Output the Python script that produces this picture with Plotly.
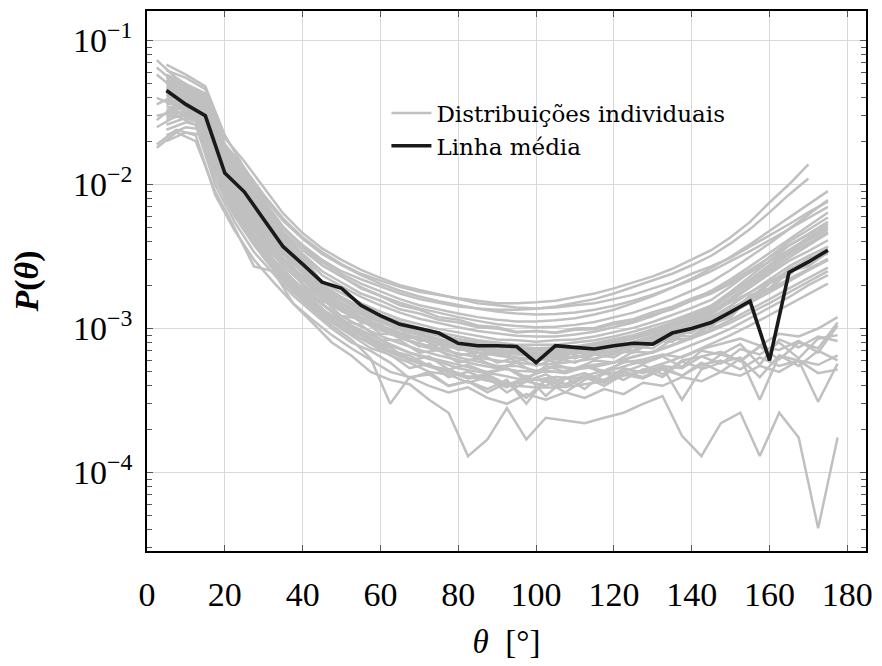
import plotly.graph_objects as go

# ---------------- data ----------------
theta_a = [5, 10, 15, 20, 25, 30, 35, 40, 45, 50, 55, 60, 65, 70, 75, 80, 85, 90, 95, 100,
           105, 110, 115, 120, 125, 130, 135, 140, 145, 150, 155, 160, 165, 170, 175]
theta_b = [2.5, 7.5, 12.5, 17.5, 22.5, 27.5, 32.5, 37.5, 42.5, 47.5, 52.5, 57.5, 62.5, 67.5,
           72.5, 77.5, 82.5, 87.5, 92.5, 97.5, 102.5, 107.5, 112.5, 117.5, 122.5, 127.5, 132.5,
           137.5, 142.5, 147.5, 152.5, 157.5, 162.5, 167.5, 172.5, 177.5]
theta_c = [5, 10, 15, 20, 25, 30, 35, 40, 45, 50, 55, 60, 65, 70, 75, 80, 85, 90, 95, 100,
           105, 110, 115, 120, 125, 130, 135, 140, 145, 150, 155, 160, 165, 170]

a01 = [6.2e-2,5.5e-2,4.6e-2,2.1e-2,1.45e-2,9.5e-3,6.3e-3,4.6e-3,3.6e-3,3.0e-3,2.55e-3,2.25e-3,2.0e-3,1.85e-3,1.72e-3,1.6e-3,1.5e-3,1.45e-3,1.4e-3,1.38e-3,1.4e-3,1.45e-3,1.5e-3,1.6e-3,1.72e-3,1.9e-3,2.1e-3,2.4e-3,2.7e-3,3.1e-3,3.7e-3,4.4e-3,5.3e-3,6.4e-3,7.6e-3]
a02 = [5.0e-2,4.6e-2,3.9e-2,1.7e-2,1.1e-2,7.0e-3,4.4e-3,3.2e-3,2.1e-3,1.76e-3,1.5e-3,1.31e-3,1.16e-3,1.07e-3,9.9e-4,9.4e-4,8.9e-4,8.4e-4,8.3e-4,8.1e-4,8.3e-4,8.4e-4,8.8e-4,9.4e-4,1.01e-3,1.11e-3,1.24e-3,1.39e-3,1.58e-3,1.96e-3,2.47e-3,3.15e-3,4.0e-3,4.85e-3,5.9e-3]
a03 = [4.4e-2,4.0e-2,3.5e-2,1.5e-2,9.5e-3,6.2e-3,3.9e-3,2.8e-3,1.88e-3,1.58e-3,1.35e-3,1.16e-3,1.05e-3,9.6e-4,9.0e-4,8.4e-4,8.0e-4,7.7e-4,7.4e-4,7.3e-4,7.4e-4,7.5e-4,7.9e-4,8.4e-4,9.0e-4,9.9e-4,1.09e-3,1.22e-3,1.39e-3,1.72e-3,2.17e-3,2.75e-3,3.5e-3,4.3e-3,5.1e-3]
a04 = [3.8e-2,3.6e-2,3.1e-2,1.3e-2,8.3e-3,5.4e-3,3.45e-3,2.46e-3,1.65e-3,1.39e-3,1.2e-3,1.05e-3,9.4e-4,8.6e-4,8.0e-4,7.5e-4,7.1e-4,6.8e-4,6.6e-4,6.5e-4,6.5e-4,6.7e-4,7.0e-4,7.4e-4,8.0e-4,8.8e-4,9.8e-4,1.1e-3,1.25e-3,1.54e-3,1.96e-3,2.48e-3,3.1e-3,3.8e-3,4.6e-3]
a05 = [3.2e-2,3.4e-2,2.9e-2,1.1e-2,7.0e-3,4.6e-3,3.1e-3,2.0e-3,1.5e-3,1.13e-3,1.06e-3,8.4e-4,8.3e-4,6.8e-4,7.1e-4,5.8e-4,6.2e-4,5.3e-4,5.8e-4,4.9e-4,5.6e-4,5.2e-4,6.0e-4,5.8e-4,6.9e-4,6.8e-4,8.4e-4,8.5e-4,1.07e-3,1.2e-3,1.65e-3,1.9e-3,2.6e-3,2.9e-3,3.7e-3]
a06 = [2.6e-2,2.9e-2,2.6e-2,9.5e-3,6.0e-3,3.9e-3,2.7e-3,2.05e-3,1.6e-3,1.32e-3,1.12e-3,9.8e-4,8.6e-4,7.9e-4,7.2e-4,6.7e-4,6.3e-4,6.0e-4,5.8e-4,5.6e-4,5.7e-4,5.9e-4,6.2e-4,6.6e-4,7.1e-4,7.8e-4,8.6e-4,9.7e-4,1.1e-3,1.28e-3,1.5e-3,1.78e-3,2.12e-3,2.55e-3,3.0e-3]
a07 = [2.2e-2,2.5e-2,2.4e-2,8.8e-3,5.2e-3,3.4e-3,2.3e-3,1.75e-3,1.36e-3,1.12e-3,9.4e-4,8.0e-4,7.2e-4,6.4e-4,5.9e-4,5.3e-4,5.0e-4,4.8e-4,4.5e-4,4.4e-4,4.6e-4,4.5e-4,4.9e-4,5.2e-4,5.7e-4,6.1e-4,6.8e-4,7.7e-4,8.7e-4,1.0e-3,1.18e-3,1.4e-3,1.65e-3,2.0e-3,2.35e-3]
a08 = [5.5e-2,4.9e-2,4.1e-2,1.8e-2,1.2e-2,7.8e-3,5.1e-3,3.7e-3,2.75e-3,2.3e-3,1.94e-3,1.69e-3,1.51e-3,1.38e-3,1.28e-3,1.2e-3,1.13e-3,1.07e-3,1.04e-3,1.02e-3,1.03e-3,1.06e-3,1.11e-3,1.19e-3,1.29e-3,1.43e-3,1.6e-3,1.83e-3,2.11e-3,2.55e-3,3.15e-3,3.9e-3,4.9e-3,6.2e-3,7.8e-3]
a09 = [4.7e-2,4.3e-2,3.7e-2,1.6e-2,1.0e-2,6.6e-3,4.2e-3,3.0e-3,2.0e-3,1.65e-3,1.41e-3,1.24e-3,1.11e-3,1.01e-3,9.4e-4,8.8e-4,8.3e-4,8.0e-4,7.7e-4,7.7e-4,7.7e-4,8.0e-4,8.3e-4,8.8e-4,9.5e-4,1.04e-3,1.14e-3,1.28e-3,1.44e-3,1.76e-3,2.17e-3,2.7e-3,3.3e-3,3.9e-3,4.6e-3]
a10 = [4.1e-2,3.8e-2,3.3e-2,1.4e-2,8.8e-3,5.8e-3,3.7e-3,2.64e-3,1.76e-3,1.46e-3,1.26e-3,1.1e-3,9.9e-4,9.0e-4,8.4e-4,7.9e-4,7.4e-4,7.1e-4,6.9e-4,6.8e-4,6.8e-4,7.0e-4,7.2e-4,7.6e-4,8.1e-4,8.8e-4,9.6e-4,1.07e-3,1.19e-3,1.44e-3,1.77e-3,2.18e-3,2.7e-3,3.2e-3,3.7e-3]
a11 = [3.5e-2,3.3e-2,2.9e-2,1.2e-2,7.6e-3,5.0e-3,3.3e-3,2.2e-3,1.62e-3,1.22e-3,1.17e-3,9.2e-4,9.1e-4,7.5e-4,7.8e-4,6.5e-4,6.8e-4,5.8e-4,6.3e-4,5.5e-4,6.2e-4,5.8e-4,6.6e-4,6.3e-4,7.5e-4,7.3e-4,8.9e-4,8.8e-4,1.1e-3,1.22e-3,1.65e-3,1.85e-3,2.5e-3,2.7e-3,3.4e-3]
a12 = [3.0e-2,3.0e-2,2.7e-2,1.05e-2,6.5e-3,4.3e-3,3.0e-3,2.25e-3,1.78e-3,1.48e-3,1.27e-3,1.11e-3,9.9e-4,9.0e-4,8.3e-4,7.7e-4,7.3e-4,7.0e-4,6.8e-4,6.6e-4,6.7e-4,6.8e-4,7.1e-4,7.5e-4,8.0e-4,8.7e-4,9.6e-4,1.07e-3,1.2e-3,1.38e-3,1.6e-3,1.88e-3,2.2e-3,2.6e-3,3.05e-3]
a13 = [4.8e-2,4.5e-2,4.0e-2,1.75e-2,1.15e-2,7.4e-3,5.0e-3,3.7e-3,2.9e-3,2.4e-3,2.05e-3,1.8e-3,1.6e-3,1.45e-3,1.35e-3,1.27e-3,1.2e-3,1.15e-3,1.12e-3,1.12e-3,1.14e-3,1.18e-3,1.25e-3,1.35e-3,1.5e-3,1.68e-3,1.92e-3,2.22e-3,2.62e-3,3.15e-3,3.85e-3,4.75e-3,5.9e-3,7.3e-3,9.0e-3]
a14 = [4.3e-2,3.9e-2,3.4e-2,1.45e-2,9.2e-3,6.0e-3,3.8e-3,2.73e-3,1.82e-3,1.5e-3,1.29e-3,1.13e-3,1.01e-3,9.2e-4,8.5e-4,7.9e-4,7.5e-4,7.1e-4,6.9e-4,6.8e-4,6.9e-4,7.1e-4,7.5e-4,8.0e-4,8.8e-4,9.8e-4,1.1e-3,1.25e-3,1.44e-3,1.8e-3,2.3e-3,2.93e-3,3.75e-3,4.55e-3,5.5e-3]
a15 = [3.6e-2,3.9e-2,3.3e-2,1.25e-2,8.0e-3,5.3e-3,3.35e-3,2.42e-3,1.58e-3,1.35e-3,1.14e-3,1.02e-3,9.0e-4,8.4e-4,7.7e-4,7.3e-4,6.8e-4,6.7e-4,6.3e-4,6.2e-4,6.4e-4,6.3e-4,6.7e-4,6.9e-4,7.5e-4,8.0e-4,8.9e-4,9.8e-4,1.1e-3,1.34e-3,1.66e-3,2.07e-3,2.55e-3,3.05e-3,3.5e-3]
a16 = [2.8e-2,3.1e-2,2.8e-2,1.0e-2,6.4e-3,4.1e-3,2.85e-3,2.15e-3,1.7e-3,1.4e-3,1.2e-3,1.04e-3,9.3e-4,8.4e-4,7.8e-4,7.2e-4,6.8e-4,6.5e-4,6.2e-4,6.1e-4,6.1e-4,6.3e-4,6.6e-4,7.0e-4,7.6e-4,8.3e-4,9.2e-4,1.03e-3,1.17e-3,1.34e-3,1.56e-3,1.83e-3,2.15e-3,2.55e-3,3.0e-3]
a17 = [2.4e-2,2.7e-2,2.5e-2,9.2e-3,5.6e-3,3.65e-3,2.5e-3,1.9e-3,1.48e-3,1.22e-3,1.03e-3,8.9e-4,7.9e-4,7.1e-4,6.5e-4,6.0e-4,5.6e-4,5.3e-4,5.1e-4,5.0e-4,5.0e-4,5.2e-4,5.4e-4,5.8e-4,6.3e-4,6.9e-4,7.7e-4,8.7e-4,9.9e-4,1.15e-3,1.35e-3,1.6e-3,1.9e-3,2.25e-3,2.65e-3]
a18 = [5.8e-2,5.0e-2,4.3e-2,1.9e-2,1.25e-2,8.2e-3,5.6e-3,4.2e-3,3.3e-3,2.75e-3,2.35e-3,2.05e-3,1.83e-3,1.67e-3,1.55e-3,1.45e-3,1.37e-3,1.31e-3,1.27e-3,1.25e-3,1.26e-3,1.29e-3,1.35e-3,1.44e-3,1.56e-3,1.72e-3,1.92e-3,2.17e-3,2.5e-3,2.92e-3,3.45e-3,4.1e-3,4.9e-3,5.9e-3,7.0e-3]
a19 = [4.5e-2,4.2e-2,3.6e-2,1.55e-2,9.8e-3,6.4e-3,4.05e-3,2.9e-3,1.94e-3,1.61e-3,1.37e-3,1.2e-3,1.07e-3,9.8e-4,9.0e-4,8.4e-4,8.0e-4,7.6e-4,7.4e-4,7.2e-4,7.2e-4,7.4e-4,7.7e-4,8.1e-4,8.6e-4,9.4e-4,1.03e-3,1.14e-3,1.29e-3,1.57e-3,1.93e-3,2.39e-3,2.95e-3,3.45e-3,4.1e-3]
a20 = [3.9e-2,3.7e-2,3.2e-2,1.35e-2,8.5e-3,5.6e-3,3.7e-3,2.45e-3,1.78e-3,1.36e-3,1.28e-3,1.0e-3,9.9e-4,8.2e-4,8.5e-4,7.1e-4,7.5e-4,6.5e-4,7.0e-4,6.1e-4,6.8e-4,6.2e-4,7.1e-4,6.7e-4,8.0e-4,7.8e-4,9.3e-4,9.3e-4,1.15e-3,1.26e-3,1.7e-3,1.9e-3,2.5e-3,2.75e-3,3.4e-3]
a21 = [3.3e-2,3.5e-2,3.0e-2,1.1e-2,6.8e-3,4.4e-3,3.0e-3,2.2e-3,1.7e-3,1.38e-3,1.15e-3,9.8e-4,8.7e-4,7.6e-4,7.0e-4,6.3e-4,5.9e-4,5.5e-4,5.5e-4,5.1e-4,5.4e-4,5.3e-4,5.6e-4,5.8e-4,6.4e-4,6.8e-4,7.6e-4,8.5e-4,9.6e-4,1.1e-3,1.28e-3,1.5e-3,1.78e-3,2.1e-3,2.5e-3]
a22 = [2.0e-2,2.3e-2,2.2e-2,8.0e-3,4.8e-3,3.1e-3,2.1e-3,1.6e-3,1.24e-3,1.01e-3,8.5e-4,7.3e-4,6.4e-4,5.7e-4,5.2e-4,4.8e-4,4.5e-4,4.2e-4,4.0e-4,3.9e-4,3.9e-4,4.0e-4,4.2e-4,4.5e-4,4.9e-4,5.4e-4,6.0e-4,6.8e-4,7.8e-4,9.0e-4,1.05e-3,1.24e-3,1.47e-3,1.75e-3,2.05e-3]
a23 = [5.2e-2,4.7e-2,4.0e-2,1.65e-2,1.05e-2,6.9e-3,4.4e-3,3.2e-3,2.34e-3,1.96e-3,1.66e-3,1.45e-3,1.29e-3,1.17e-3,1.09e-3,1.02e-3,9.6e-4,9.2e-4,8.9e-4,8.8e-4,8.8e-4,9.1e-4,9.5e-4,1.02e-3,1.1e-3,1.22e-3,1.38e-3,1.57e-3,1.83e-3,2.2e-3,2.7e-3,3.35e-3,4.2e-3,5.2e-3,6.4e-3]
a24 = [4.6e-2,4.1e-2,3.5e-2,1.5e-2,9.6e-3,6.3e-3,4.0e-3,2.86e-3,1.91e-3,1.59e-3,1.35e-3,1.18e-3,1.05e-3,9.5e-4,8.9e-4,8.3e-4,7.8e-4,7.4e-4,7.2e-4,7.1e-4,7.1e-4,7.2e-4,7.5e-4,7.9e-4,8.5e-4,9.2e-4,1.02e-3,1.15e-3,1.31e-3,1.62e-3,2.04e-3,2.57e-3,3.25e-3,3.9e-3,4.65e-3]
a25 = [3.7e-2,3.5e-2,3.0e-2,1.28e-2,8.1e-3,5.3e-3,3.3e-3,2.5e-3,1.55e-3,1.4e-3,1.1e-3,1.06e-3,8.6e-4,8.7e-4,7.3e-4,7.5e-4,6.4e-4,6.8e-4,5.9e-4,6.4e-4,5.8e-4,6.5e-4,6.1e-4,7.0e-4,6.8e-4,8.1e-4,8.1e-4,1.0e-3,1.02e-3,1.36e-3,1.52e-3,2.07e-3,2.35e-3,3.1e-3,3.3e-3]
a26 = [3.1e-2,3.2e-2,2.8e-2,1.08e-2,6.7e-3,4.4e-3,3.05e-3,2.3e-3,1.82e-3,1.51e-3,1.29e-3,1.13e-3,1.0e-3,9.1e-4,8.4e-4,7.8e-4,7.4e-4,7.0e-4,6.7e-4,6.6e-4,6.6e-4,6.7e-4,6.9e-4,7.3e-4,7.8e-4,8.5e-4,9.3e-4,1.04e-3,1.17e-3,1.34e-3,1.55e-3,1.82e-3,2.15e-3,2.55e-3,3.0e-3]
a27 = [6.8e-2,5.8e-2,4.8e-2,2.2e-2,1.3e-2,7.8e-3,4.65e-3,3.17e-3,2.03e-3,1.65e-3,1.39e-3,1.2e-3,1.07e-3,9.8e-4,9.0e-4,8.4e-4,8.0e-4,7.7e-4,7.4e-4,7.3e-4,7.3e-4,7.4e-4,7.7e-4,8.2e-4,8.8e-4,9.6e-4,1.07e-3,1.2e-3,1.37e-3,1.7e-3,2.13e-3,2.7e-3,3.4e-3,4.1e-3,4.85e-3]
a28 = [4.2e-2,4.0e-2,3.6e-2,1.6e-2,1.05e-2,7.0e-3,4.7e-3,3.5e-3,2.75e-3,2.3e-3,1.9e-3,1.68e-3,1.45e-3,1.35e-3,1.2e-3,1.15e-3,1.05e-3,1.02e-3,9.5e-4,9.6e-4,9.3e-4,9.8e-4,9.9e-4,1.07e-3,1.12e-3,1.25e-3,1.36e-3,1.56e-3,1.75e-3,2.05e-3,2.45e-3,2.9e-3,3.5e-3,4.2e-3,5.0e-3]
a29 = [2.9e-2,3.3e-2,2.9e-2,1.15e-2,7.3e-3,4.8e-3,3.3e-3,2.5e-3,1.95e-3,1.62e-3,1.38e-3,1.2e-3,1.07e-3,9.7e-4,9.0e-4,8.4e-4,7.9e-4,7.5e-4,7.2e-4,7.1e-4,7.1e-4,7.3e-4,7.6e-4,8.0e-4,8.6e-4,9.4e-4,1.04e-3,1.16e-3,1.32e-3,1.52e-3,1.78e-3,2.1e-3,2.5e-3,3.0e-3,3.55e-3]
a30 = [5.3e-2,4.6e-2,3.8e-2,1.6e-2,1.02e-2,6.7e-3,4.5e-3,3.3e-3,2.5e-3,2.1e-3,1.75e-3,1.56e-3,1.36e-3,1.27e-3,1.15e-3,1.1e-3,1.02e-3,1.0e-3,9.4e-4,9.6e-4,9.4e-4,1.0e-3,1.01e-3,1.1e-3,1.16e-3,1.3e-3,1.42e-3,1.62e-3,1.8e-3,2.12e-3,2.55e-3,3.1e-3,3.8e-3,4.5e-3,5.3e-3]

b01 = [1.8e-2,2.3e-2,2.0e-2,9.0e-3,5.0e-3,2.7e-3,2.5e-3,1.5e-3,1.1e-3,8.0e-4,6.5e-4,5.0e-4,4.4e-4,4.1e-4,3.2e-4,2.6e-4,1.3e-4,1.7e-4,2.8e-4,1.7e-4,2.4e-4,2.3e-4,2.2e-4,2.4e-4,2.6e-4,3.0e-4,3.4e-4,1.8e-4,1.3e-4,2.2e-4,2.6e-4,1.3e-4,2.6e-4,1.75e-4,4.1e-5,1.75e-4]
b02 = [2.5e-2,3.0e-2,2.6e-2,1.0e-2,5.5e-3,3.4e-3,2.4e-3,1.7e-3,1.3e-3,1.0e-3,8.0e-4,7.0e-4,5.8e-4,4.5e-4,5.0e-4,4.0e-4,4.3e-4,3.6e-4,4.2e-4,3.3e-4,4.4e-4,3.9e-4,4.6e-4,4.0e-4,4.8e-4,4.5e-4,5.2e-4,4.7e-4,5.8e-4,5.0e-4,6.2e-4,4.6e-4,6.5e-4,5.5e-4,7.0e-4,6.0e-4]
b03 = [7.3e-2,5.5e-2,4.5e-2,1.6e-2,8.5e-3,5.0e-3,3.0e-3,2.1e-3,1.6e-3,1.2e-3,9.5e-4,8.5e-4,7.0e-4,6.5e-4,5.5e-4,5.2e-4,4.6e-4,4.8e-4,4.1e-4,4.5e-4,4.3e-4,3.6e-4,4.4e-4,4.9e-4,5.0e-4,5.6e-4,4.8e-4,6.0e-4,6.4e-4,5.7e-4,7.2e-4,6.6e-4,8.0e-4,6.2e-4,8.5e-4,9.0e-4]
b04 = [3.0e-2,3.2e-2,2.8e-2,1.1e-2,6.0e-3,3.8e-3,2.6e-3,1.9e-3,1.4e-3,1.1e-3,9.0e-4,7.3e-4,6.6e-4,5.3e-4,5.7e-4,4.6e-4,5.0e-4,4.4e-4,3.9e-4,4.7e-4,3.4e-4,4.5e-4,4.9e-4,4.3e-4,5.3e-4,4.9e-4,5.5e-4,5.3e-4,6.4e-4,6.9e-4,5.9e-4,7.5e-4,7.1e-4,8.2e-4,6.8e-4,1.05e-3]
b05 = [6.5e-2,5.0e-2,4.0e-2,1.4e-2,7.5e-3,4.5e-3,3.0e-3,2.2e-3,1.65e-3,1.3e-3,1.05e-3,9.0e-4,7.8e-4,6.8e-4,6.3e-4,5.8e-4,5.4e-4,5.0e-4,5.3e-4,4.6e-4,5.1e-4,4.9e-4,5.4e-4,5.1e-4,5.8e-4,6.1e-4,6.6e-4,6.3e-4,7.2e-4,7.8e-4,8.5e-4,7.6e-4,9.2e-4,8.8e-4,1.0e-3,1.2e-3]
b06 = [4.0e-2,3.5e-2,3.3e-2,1.2e-2,6.8e-3,4.2e-3,2.8e-3,2.0e-3,1.5e-3,1.2e-3,1.0e-3,8.2e-4,7.0e-4,6.2e-4,5.5e-4,5.0e-4,4.5e-4,4.7e-4,4.0e-4,4.3e-4,4.8e-4,4.1e-4,4.7e-4,4.4e-4,5.2e-4,5.0e-4,5.4e-4,4.7e-4,5.6e-4,6.0e-4,5.2e-4,6.3e-4,5.5e-4,6.0e-4,4.9e-4,5.2e-4]
b07 = [1.9e-2,2.4e-2,2.2e-2,8.5e-3,4.8e-3,3.0e-3,2.1e-3,1.5e-3,1.15e-3,9.0e-4,7.3e-4,6.0e-4,5.0e-4,4.6e-4,4.0e-4,3.6e-4,3.9e-4,3.3e-4,3.0e-4,3.5e-4,3.2e-4,3.6e-4,3.3e-4,3.8e-4,3.5e-4,4.2e-4,4.0e-4,4.6e-4,4.3e-4,5.0e-4,4.7e-4,5.5e-4,5.0e-4,6.0e-4,5.6e-4,6.5e-4]
b08 = [2.8e-2,3.6e-2,3.0e-2,1.1e-2,6.2e-3,3.9e-3,2.6e-3,1.8e-3,1.35e-3,1.05e-3,8.4e-4,6.2e-4,3.0e-4,4.6e-4,4.8e-4,4.0e-4,4.3e-4,3.8e-4,4.4e-4,3.0e-4,4.5e-4,4.1e-4,4.7e-4,4.2e-4,5.0e-4,4.6e-4,5.4e-4,3.2e-4,5.2e-4,5.8e-4,6.3e-4,3.2e-4,6.5e-4,6.0e-4,3.1e-4,5.7e-4]
b09 = [5.8e-2,4.5e-2,3.6e-2,1.3e-2,7.0e-3,4.4e-3,2.9e-3,2.1e-3,1.55e-3,1.2e-3,1.0e-3,8.0e-4,7.4e-4,6.0e-4,6.4e-4,5.2e-4,5.6e-4,4.9e-4,5.3e-4,4.4e-4,5.5e-4,5.0e-4,5.6e-4,4.8e-4,6.0e-4,5.7e-4,6.4e-4,5.4e-4,7.0e-4,6.6e-4,7.8e-4,5.6e-4,8.4e-4,7.4e-4,8.8e-4,8.2e-4]
b10 = [3.6e-2,4.2e-2,3.4e-2,1.25e-2,6.5e-3,4.0e-3,2.7e-3,1.95e-3,1.45e-3,1.15e-3,9.3e-4,7.8e-4,6.5e-4,5.8e-4,5.0e-4,4.8e-4,4.2e-4,4.6e-4,3.6e-4,4.3e-4,4.0e-4,4.6e-4,3.8e-4,4.9e-4,4.4e-4,5.2e-4,4.6e-4,5.9e-4,5.3e-4,6.6e-4,6.0e-4,7.5e-4,6.1e-4,8.0e-4,7.3e-4,1.1e-3]

c01 = [5.5e-2,4.8e-2,4.2e-2,1.9e-2,1.3e-2,8.5e-3,5.8e-3,4.3e-3,3.4e-3,2.8e-3,2.4e-3,2.15e-3,1.95e-3,1.8e-3,1.7e-3,1.62e-3,1.56e-3,1.5e-3,1.5e-3,1.52e-3,1.56e-3,1.65e-3,1.75e-3,1.9e-3,2.1e-3,2.3e-3,2.6e-3,3.0e-3,3.5e-3,4.3e-3,5.5e-3,7.5e-3,1.0e-2,1.38e-2]
c02 = [5.0e-2,4.4e-2,3.8e-2,1.7e-2,1.1e-2,7.2e-3,5.0e-3,3.8e-3,3.0e-3,2.5e-3,2.2e-3,1.95e-3,1.75e-3,1.6e-3,1.5e-3,1.42e-3,1.38e-3,1.35e-3,1.35e-3,1.37e-3,1.42e-3,1.5e-3,1.6e-3,1.75e-3,1.95e-3,2.15e-3,2.4e-3,2.75e-3,3.2e-3,3.9e-3,4.9e-3,6.4e-3,8.5e-3,1.1e-2]

mean_line = [4.5e-2,3.6e-2,3.0e-2,1.2e-2,8.9e-3,5.8e-3,3.7e-3,2.8e-3,2.1e-3,1.9e-3,1.45e-3,1.23e-3,1.07e-3,1.0e-3,9.3e-4,7.9e-4,7.6e-4,7.6e-4,7.5e-4,5.8e-4,7.6e-4,7.4e-4,7.2e-4,7.6e-4,7.9e-4,7.8e-4,9.3e-4,1.0e-3,1.1e-3,1.3e-3,1.55e-3,6.0e-4,2.45e-3,2.9e-3,3.5e-3]

y_tickvals = [1e-4, 1e-3, 1e-2, 1e-1]
y_ticktext = ["10<sup>−4</sup>", "10<sup>−3</sup>", "10<sup>−2</sup>", "10<sup>−1</sup>"]
x_tickvals = [0, 20, 40, 60, 80, 100, 120, 140, 160, 180]

group_a = [a01, a02, a03, a04, a05, a06, a07, a08, a09, a10, a11, a12, a13, a14, a15,
           a16, a17, a18, a19, a20, a21, a22, a23, a24, a25, a26, a27, a28, a29, a30]
group_b = [b01, b02, b03, b04, b05, b06, b07, b08, b09, b10]
group_c = [c01, c02]

GRAY = "#c0c0c0"
BLACK = "#1a1a1a"
SERIF = "Liberation Serif"

fig = go.Figure()
first = True
for xs, grp in ((theta_a, group_a), (theta_b, group_b), (theta_c, group_c)):
    for ys in grp:
        fig.add_trace(go.Scatter(
            x=xs, y=ys, mode="lines",
            line=dict(color=GRAY, width=2.5),
            name="Distribuições individuais",
            legendgroup="ind", showlegend=first, hoverinfo="skip"))
        first = False

fig.add_trace(go.Scatter(
    x=theta_a, y=mean_line, mode="lines",
    line=dict(color=BLACK, width=3.6),
    name="Linha média", showlegend=True))

axis_common = dict(
    showline=True, linecolor="black", linewidth=1.5, mirror="allticks",
    ticks="inside", tickcolor="#555555", ticklen=6, tickwidth=1,
    showgrid=True, gridcolor="#d9d9d9", gridwidth=1,
    zeroline=False,
    tickfont=dict(family=SERIF, size=34, color="black"),
)

fig.update_xaxes(
    **axis_common,
    range=[0, 184.8],
    tickmode="array", tickvals=x_tickvals,
    ticklabelstandoff=12,
    title=dict(text="<i>θ</i>\u2002[°]", font=dict(family=SERIF, size=33, color="black"),
               standoff=18),
)
fig.update_yaxes(
    **axis_common,
    type="log",
    range=[-4.545, -0.795],
    tickmode="array", tickvals=y_tickvals, ticktext=y_ticktext,
    ticklabelstandoff=6,
    minor=dict(ticks="inside", ticklen=5, tickcolor="#555555", dtick="D1", showgrid=False),
    title=dict(text="<b><i>P</i>(<i>θ</i>)</b>", font=dict(family=SERIF, size=34, color="black"),
               standoff=24),
)

fig.update_layout(
    width=882, height=666,
    margin=dict(l=147, r=9, t=11, b=115),
    paper_bgcolor="white", plot_bgcolor="white",
    showlegend=True,
    legend=dict(
        x=0.333, y=0.851, xanchor="left", yanchor="top",
        bgcolor="rgba(0,0,0,0)", borderwidth=0,
        font=dict(family="DejaVu Serif", size=23, color="black"),
        itemwidth=40, tracegroupgap=0,
    ),
)

fig.write_html("out.html")
